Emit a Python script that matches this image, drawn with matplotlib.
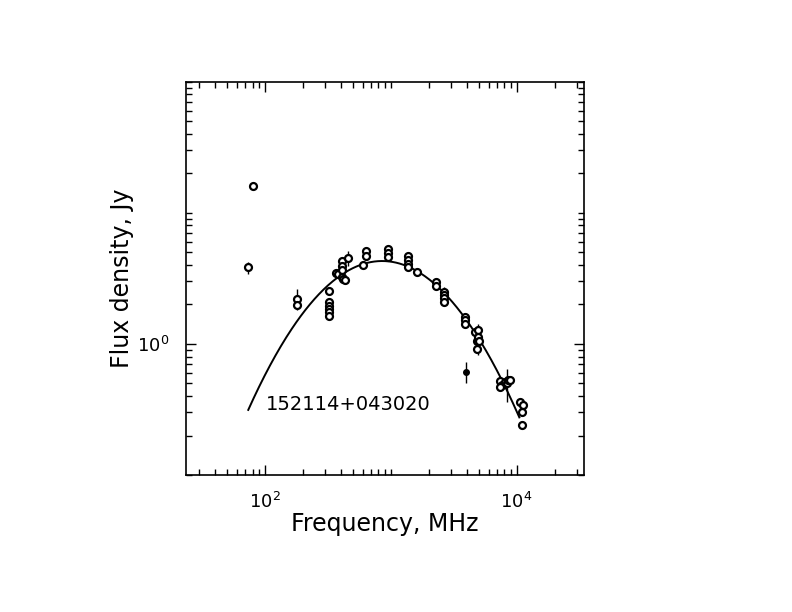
import numpy as np
import matplotlib
matplotlib.use("Agg")
import matplotlib.pyplot as plt
from matplotlib.ticker import LogLocator, NullFormatter, FixedLocator

# measured points: frequency (MHz), flux density (Jy), error (Jy, 0 = none)
freq = [80, 74, 179, 179, 325, 325, 325, 325, 325, 325, 365, 380,
        408, 408, 408, 412, 420, 430, 460, 606, 635, 635, 955, 955, 955,
        1380, 1380, 1380, 1380, 1630, 2270, 2270, 2650, 2650, 2650, 2650,
        3900, 3900, 3900, 4700, 4900, 4800, 4850, 4950, 5000,
        7360, 7600, 8090, 8320, 8600, 8800, 7360,
        10600, 11300, 10960, 10960]
flux = [16.0, 3.84, 2.21, 1.98, 2.55, 2.08, 1.96, 1.85, 1.74, 1.64, 3.46, 3.43,
        4.32, 3.95, 3.63, 3.25, 3.12, 3.05, 4.53, 4.03, 5.10, 4.72, 5.31, 4.97, 4.63,
        4.72, 4.39, 4.10, 3.83, 3.52, 2.95, 2.74, 2.47, 2.34, 2.22, 2.10,
        1.59, 1.51, 1.43, 1.23, 1.28, 1.06, 0.92, 1.12, 1.06,
        0.525, 0.489, 0.509, 0.50, 0.531, 0.531, 0.466,
        0.358, 0.344, 0.30, 0.24]
err = [0, 0.40, 0.40, 0, 0, 0, 0, 0, 0, 0, 0, 0,
       0, 0, 0, 0, 0, 0, 0.60, 0, 0, 0, 0, 0, 0,
       0, 0, 0, 0, 0, 0, 0, 0, 0.38, 0, 0,
       0, 0.16, 0, 0, 0, 0, 0, 0.30, 0,
       0, 0, 0, 0.14, 0, 0, 0,
       0, 0, 0, 0]

# filled point
freq_f = [3940]
flux_f = [0.615]
err_f = [0.11]

# fitted spectrum: log S = c0 + c1*log f + c2*(log f)^2
fit_coef = [-1.0055, 5.8963, -8.012]
fit_range = [74, 10500]

source = "152114+043020"

fig = plt.figure(figsize=(7.92, 6.12), dpi=100)
ax = fig.add_axes([0.2348, 0.2239, 0.5025, 0.6426])

lf = np.linspace(np.log10(fit_range[0]), np.log10(fit_range[1]), 300)
ax.plot(10**lf, 10**np.polyval(fit_coef, lf), color="black", lw=1.4)

ax.errorbar(freq, flux, yerr=err, fmt="o", ms=5, mfc="white", mec="black",
            mew=1.6, ecolor="black", elinewidth=1.0, capsize=0, zorder=3)
ax.errorbar(freq_f, flux_f, yerr=err_f, fmt="o", ms=4, mfc="black", mec="black",
            ecolor="black", elinewidth=1.0, capsize=0, zorder=3)

ax.set_xscale("log")
ax.set_yscale("log")
ax.set_xlim(23.7, 34200)
ax.set_ylim(0.1, 100)

ax.xaxis.set_major_locator(FixedLocator([100, 10000]))
ax.yaxis.set_major_locator(FixedLocator([1]))
ax.set_xticklabels(["$10^{2}$", "$10^{4}$"])
ax.set_yticklabels(["$10^{0}$"])
ax.xaxis.set_minor_locator(LogLocator(base=10, subs=np.arange(1, 10), numticks=20))
ax.yaxis.set_minor_locator(LogLocator(base=10, subs=np.arange(1, 10), numticks=20))
ax.xaxis.set_minor_formatter(NullFormatter())
ax.yaxis.set_minor_formatter(NullFormatter())
ax.tick_params(which="both", direction="in", top=True, right=True, width=1, labelsize=13)
ax.tick_params(which="major", length=7, pad=12)
ax.tick_params(which="minor", length=4)
for s in ax.spines.values():
    s.set_linewidth(1.2)

ax.set_xlabel("Frequency, MHz", fontsize=17, labelpad=0)
ax.set_ylabel("Flux density, Jy", fontsize=17, labelpad=2)
ax.text(0.2, 0.18, source, transform=ax.transAxes, fontsize=14, ha="left", va="center")

fig.savefig("out.png", dpi=100)
